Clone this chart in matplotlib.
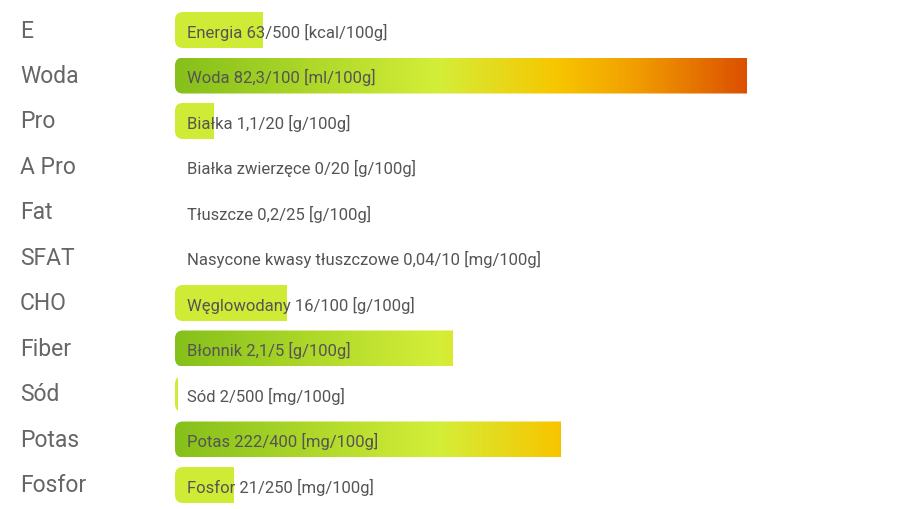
import matplotlib.pyplot as plt
import numpy as np
from matplotlib.colors import LinearSegmentedColormap
from matplotlib.patches import FancyBboxPatch

plt.rcParams['font.family'] = ['Roboto', 'DejaVu Sans']

codes = ['E', 'Woda', 'Pro', 'A Pro', 'Fat', 'SFAT', 'CHO', 'Fiber', 'Sód', 'Potas', 'Fosfor']
names = ['Energia', 'Woda', 'Białka', 'Białka zwierzęce', 'Tłuszcze', 'Nasycone kwasy tłuszczowe',
         'Węglowodany', 'Błonnik', 'Sód', 'Potas', 'Fosfor']
values = [63, 82.3, 1.1, 0, 0.2, 0.04, 16, 2.0, 2, 222, 21]
value_text = ['63', '82,3', '1,1', '0', '0,2', '0,04', '16', '2,1', '2', '222', '21']
limits = [500, 100, 20, 20, 25, 10, 100, 5, 500, 400, 250]
units = ['kcal/100g', 'ml/100g', 'g/100g', 'g/100g', 'g/100g', 'mg/100g',
         'g/100g', 'g/100g', 'mg/100g', 'mg/100g', 'mg/100g']

x0, full = 175, 695
y_first, step, bar_h = 31, 45.5, 36

cmap = LinearSegmentedColormap.from_list('nutri', [
    (0.0, '#86c01a'), (0.38 / 0.85, '#d4ee38'), (0.55 / 0.85, '#f7c600'),
    (0.66 / 0.85, '#f2a000'), (1.0, '#d84400')])

fig = plt.figure(figsize=(9, 5.1), dpi=100)
ax = fig.add_axes([0, 0, 1, 1])
ax.set_xlim(0, 900)
ax.set_ylim(510, 0)
ax.axis('off')

for i, (code, name) in enumerate(zip(codes, names)):
    yc = y_first + i * step
    ax.text(20, yc, code, fontsize=16.5, color='#666666', va='center', ha='left')
    f = values[i] / limits[i]
    w = f * full
    if values[i] >= 1:
        patch = FancyBboxPatch((x0, yc - bar_h / 2), w + 10, bar_h,
                               boxstyle='round,pad=0,rounding_size=8',
                               linewidth=0, facecolor='none')
        ax.add_patch(patch)
        if f < 0.2:
            img = np.array([[cmap(0.36 / 0.85)]])
        else:
            t = np.linspace(0, f, 200) / 0.85
            img = cmap(t)[None, :, :]
        im = ax.imshow(img, extent=(x0, x0 + w, yc + bar_h / 2, yc - bar_h / 2),
                       aspect='auto', interpolation='bilinear', zorder=1)
        im.set_clip_path(patch)
    ax.text(187, yc + 1, '%s %s/%d [%s]' % (name, value_text[i], limits[i], units[i]),
            fontsize=12, color='#555555', va='center', ha='left', zorder=3)

ax.set_xlim(0, 900)
ax.set_ylim(510, 0)
fig.savefig('out.png', dpi=100, facecolor='white')
